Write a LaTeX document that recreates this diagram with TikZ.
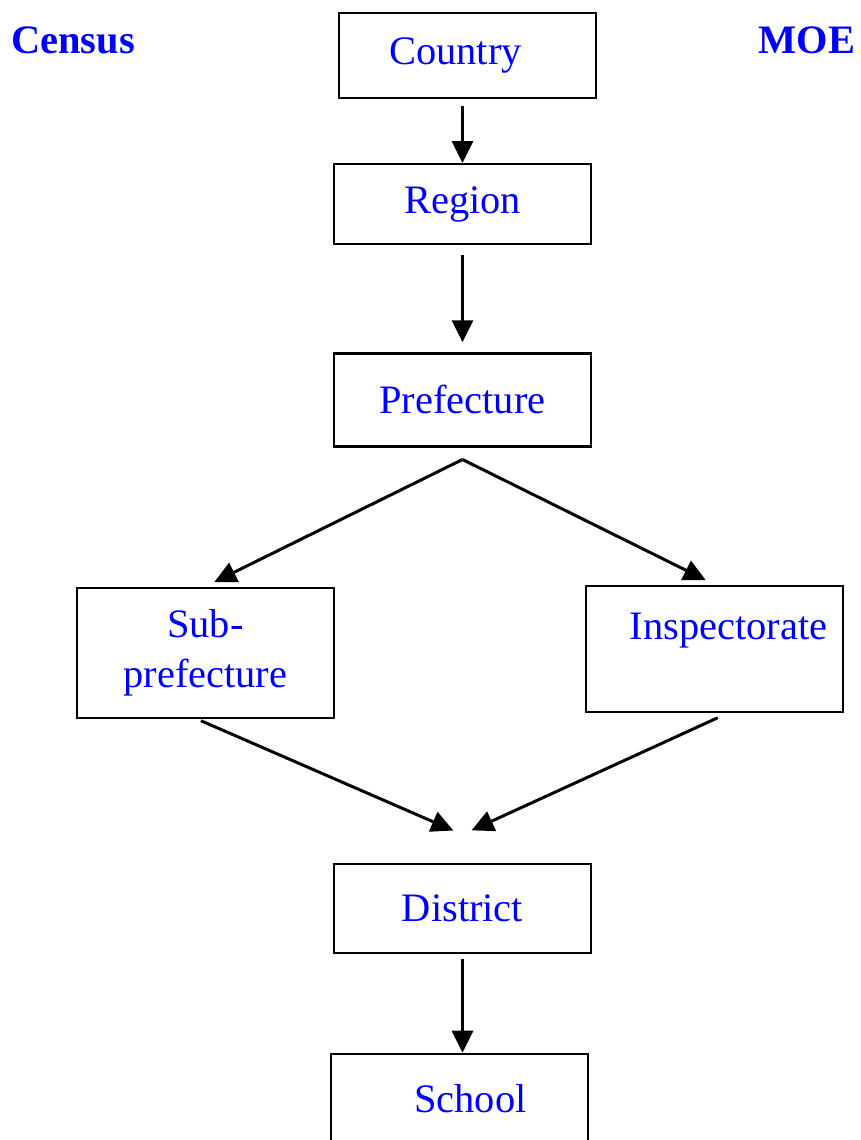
\documentclass[tikz,border=0pt]{standalone}
\usepackage{fontspec}
\setmainfont{Liberation Serif}
\usetikzlibrary{calc, arrows.meta, positioning}

\begin{document}
\begin{tikzpicture}[node distance=1cm, >={Triangle[length=0.22cm, width=0.21cm]},
  every node/.style={text=blue, font=\fontsize{11.5}{14.2}\selectfont},
  level/.style={draw=black, line width=0.022cm, minimum width=2.57cm, minimum height=0.85cm, align=center, inner sep=0pt},
  link/.style={->, line width=0.03cm}]
\useasboundingbox (0,0) rectangle (8.61,-11.40);

  \node (census) at (0.73,-0.40) {\textbf{Census}};
  \node (moe) at (8.07,-0.40) {\textbf{MOE}};

  \node (country) [level] at (4.675,-0.555) {Country\hspace*{0.24cm}};
  \node (region) [level, below=0.64cm of country, xshift=-0.05cm, minimum height=0.80cm] {Region};
  \node (pref) [level, below=1.07cm of region, minimum height=0.93cm] {Prefecture};
  \node (sub) [level, below left=1.39cm and -0.02cm of pref, minimum height=1.30cm] {Sub-\\prefecture};
  \node (insp) [level, below right=1.37cm and -0.07cm of pref, minimum height=1.26cm] {\hspace*{0.28cm}Inspectorate\\[-0.2cm] \strut};
  \node (district) [level, below=4.15cm of pref, minimum height=0.89cm] {District};
  \node (school) [level, below=0.99cm of district, xshift=-0.03cm, minimum height=0.90cm] {\hspace*{0.22cm}School};

  \coordinate (fork) at ($(pref.south)+(0,-0.12)$);
  \coordinate (join) at ($(district.north)+(0,0.28)$);

  \draw[link, shorten <=0.07cm] (region.north |- country.south) -- (region.north);
  \draw[link, shorten <=0.1cm, shorten >=0.1cm] (region) -- (pref);
  \draw[link, shorten >=0.1cm] (fork) -- (sub.north);
  \draw[link, shorten >=0.1cm] (fork) -- (insp.north);
  \draw[link, shorten <=0.05cm, shorten >=0.1cm] ([xshift=-0.09cm]sub.south) -- (join);
  \draw[link, shorten <=0.12cm, shorten >=0.1cm] ([xshift=0.14cm]insp.south) -- (join);
  \draw[link, shorten <=0.05cm] (district.south) -- (district.south |- school.north);
\end{tikzpicture}
\end{document}
